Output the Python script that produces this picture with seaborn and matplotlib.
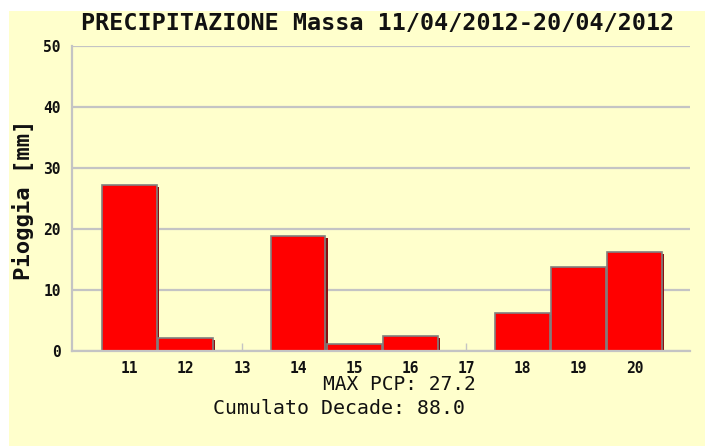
import matplotlib
matplotlib.use("Agg")
import matplotlib.pyplot as plt
import matplotlib.patheffects as pe
from matplotlib.patches import Rectangle
import seaborn as sns
import pandas as pd

# Daily rainfall, Massa, 11-20 April 2012
days = ["11", "12", "13", "14", "15", "16", "17", "18", "19", "20"]
rain_mm = [27.2, 2.2, 0.0, 18.8, 1.2, 2.4, 0.0, 6.2, 13.8, 16.2]
y_ticks = [0, 10, 20, 30, 40, 50]

title = "PRECIPITAZIONE Massa 11/04/2012-20/04/2012"
ylabel = "Pioggia [mm]"

df = pd.DataFrame({"giorno": days, "pioggia": rain_mm})

sns.set_theme(style="white")
plt.rcParams["font.family"] = ["DejaVu Sans Mono", "DejaVu Sans"]

W, H = 705, 446
BG = "#FFFFCC"
GRID = "#C4C4C4"

fig = plt.figure(figsize=(W / 100, H / 100), dpi=100, facecolor="white")
fig.patches.append(Rectangle((9 / W, 0), 1 - 9 / W, 1 - 11 / H,
                             transform=fig.transFigure, facecolor=BG,
                             edgecolor="none", zorder=-10))

ax = fig.add_axes([72 / W, 1 - 351 / H, (690 - 72) / W, (351 - 46) / H])
ax.set_facecolor(BG)
ax.patch.set_alpha(0)

sns.barplot(data=df, x="giorno", y="pioggia", color="#FF0000", saturation=1,
            width=0.98, edgecolor="#808080", linewidth=1.2, ax=ax)

for bar in ax.patches:
    bar.set_path_effects([
        pe.SimplePatchShadow(offset=(1.5, -1.4), shadow_rgbFace="#8A1010", alpha=1.0),
        pe.Normal(),
    ])

ax.set_xlim(-1.03, 9.99)
ax.set_ylim(0, 50)
ax.set_yticks(y_ticks)
ax.set_axisbelow(True)
ax.yaxis.grid(True, color=GRID, linewidth=1.6)
ax.xaxis.grid(False)

for side in ["top", "right"]:
    ax.spines[side].set_visible(False)
for side in ["left", "bottom"]:
    ax.spines[side].set_color(GRID)
    ax.spines[side].set_linewidth(1.6)

ax.tick_params(axis="y", length=0, pad=8, labelsize=10.5, labelcolor="#111111")
ax.tick_params(axis="x", direction="in", length=6, width=1, color=GRID,
               pad=7, labelsize=10.5, labelcolor="#111111", bottom=True)
for lab in ax.get_xticklabels() + ax.get_yticklabels():
    lab.set_fontweight("bold")

ax.set_xlabel("")
ax.set_ylabel("")

fig.text(378 / W, 1 - 23 / H, title, ha="center", va="center",
         fontsize=16.8, fontweight="bold", color="#111111")
fig.text(23 / W, 1 - 200 / H, ylabel, ha="center", va="center",
         rotation=90, fontsize=16, fontweight="bold", color="#111111")

fig.text(323 / W, 1 - 384 / H, f"MAX PCP: {max(rain_mm):.1f}",
         ha="left", va="center", fontsize=14, color="#111111")
fig.text(213 / W, 1 - 409 / H, f"Cumulato Decade: {sum(rain_mm):.1f}",
         ha="left", va="center", fontsize=14.3, color="#111111")

fig.savefig("out.png", dpi=100, facecolor="white")
